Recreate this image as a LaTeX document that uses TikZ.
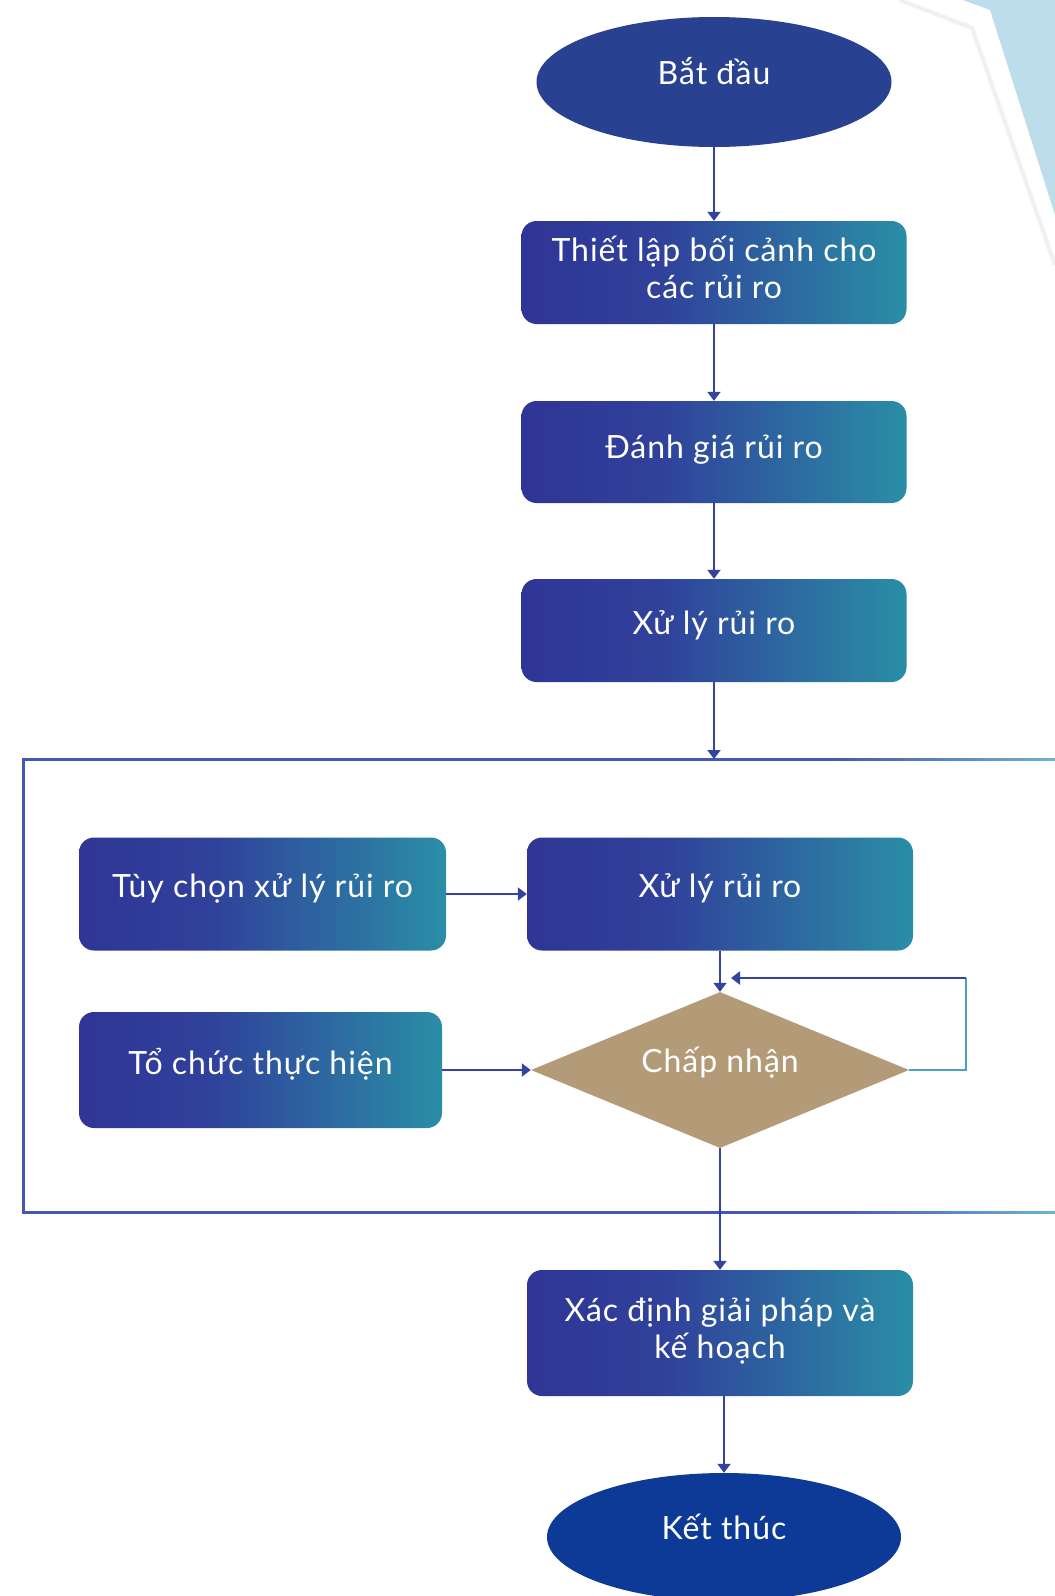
\documentclass[tikz,border=0pt]{standalone}
\usepackage{fontspec}
\setmainfont[LetterSpace=3]{Lato}
\usetikzlibrary{shapes.geometric,arrows.meta}
\definecolor{indig}{HTML}{2F3596}
\definecolor{indmid}{HTML}{30419B}
\definecolor{teal2}{HTML}{2A8EA6}
\definecolor{startblue}{HTML}{284190}
\definecolor{endblue}{HTML}{0D3A97}
\definecolor{tan}{HTML}{B39B78}
\definecolor{lineblue}{HTML}{3442A0}
\definecolor{frameblue}{HTML}{4557B5}
\definecolor{frameteal}{HTML}{6FB2CE}
\definecolor{looptealc}{HTML}{4AA2C2}
\definecolor{skyblue}{HTML}{BEDDEA}
\pgfdeclarehorizontalshading{boxshade}{100bp}{color(0bp)=(indig); color(25bp)=(indig); color(43bp)=(indmid); color(75bp)=(teal2); color(100bp)=(teal2)}
\pgfdeclarehorizontalshading{frameshade}{100bp}{color(0bp)=(frameblue); color(25bp)=(frameblue); color(64bp)=(frameblue); color(75bp)=(frameteal); color(100bp)=(frameteal)}
\newcommand\rz[2]{\raisebox{#1pt}{#2}}
\newcommand\rzz[3]{\raisebox{#1pt}{\begin{tabular}{@{}c@{}}#2\\#3\end{tabular}}}
\tikzset{
  txt/.style={text=white, align=center, font=\fontsize{32}{37}\selectfont, inner sep=0pt},
  pbox/.style={txt, rectangle, rounded corners=15pt, shading=boxshade},
  oval/.style={txt, ellipse},
  decis/.style={txt, diamond, aspect=2.42, fill=tan},
  conn/.style={draw=lineblue, line width=2pt, -{Triangle[length=9pt,width=13pt]}},
  loopline/.style={draw=looptealc, line width=2pt},
}
\begin{document}
\begin{tikzpicture}[x=1pt,y=-1pt]
\useasboundingbox (0,0) rectangle (1055,1596);
\clip (0,0) rectangle (1055,1596);
\fill[white] (0,0) rectangle (1055,1596);
% decoration top right
\fill[skyblue] (963,0) -- (1055,0) -- (1055,215) -- (990,10) -- cycle;
\draw[gray!8, line width=5pt] (900,0) -- (972,28) -- (1055,265);
\draw[gray!14, line width=1.5pt] (900,0) -- (972,28) -- (1055,265);
% frame
\fill[frameblue] (22,758) rectangle (24.5,1213);
\shade[shading=frameshade] (22,758) rectangle (1055,760.5);
\shade[shading=frameshade] (22,1211) rectangle (1055,1213.5);
% nodes
\node[oval, fill=startblue, minimum width=355pt, minimum height=130pt] (start) at (714,82) {\rz{22}{Bắt đầu}};
\node[pbox, minimum width=385pt, minimum height=103pt] (b1) at (714,272.5) {\rzz{13}{Thiết lập bối cảnh cho}{các rủi ro}};
\node[pbox, minimum width=385pt, minimum height=102pt] (b2) at (714,452) {\rz{10}{Đánh giá rủi ro}};
\node[pbox, minimum width=385pt, minimum height=103pt] (b3) at (714,630.5) {\rz{15}{Xử lý rủi ro}};
\coordinate (ftop) at (714,759);
\node[pbox, minimum width=367pt, minimum height=113pt] (opt) at (262.5,894) {\rz{16}{Tùy chọn xử lý rủi ro}};
\node[pbox, minimum width=386pt, minimum height=113pt] (b4) at (720,894) {\rz{16}{Xử lý rủi ro}};
\node[pbox, minimum width=363pt, minimum height=116pt] (org) at (260.5,1070) {\rz{18}{Tổ chức thực hiện}};
\node[decis, minimum width=378pt, minimum height=156pt] (acc) at (720,1070) {\rz{20}{Chấp nhận}};
\node[pbox, minimum width=386pt, minimum height=126pt] (sol) at (720,1333) {\rzz{0}{Xác định giải pháp và}{kế hoạch}};
\node[oval, fill=endblue, minimum width=354pt, minimum height=128pt] (stop) at (724,1537) {\rz{20}{Kết thúc}};
% connectors
\draw[conn] (start) -- (b1);
\draw[conn] (b1) -- (b2);
\draw[conn] (b2) -- (b3);
\draw[conn] (b3) -- (ftop);
\draw[conn] (opt) -- (b4);
\draw[conn] (org) -- (acc);
\draw[conn] (b4) -- (acc);
\coordinate (lr) at (966,1070);
\coordinate (ur) at (966,978);
\coordinate (lt) at (731,978);
\draw[loopline] (acc.east) -- (lr) -- (ur);
\draw[conn] (ur) -- (lt);
\draw[conn] (acc) -- (sol);
\draw[conn] (sol.south -| stop) -- (stop);
\end{tikzpicture}
\end{document}
